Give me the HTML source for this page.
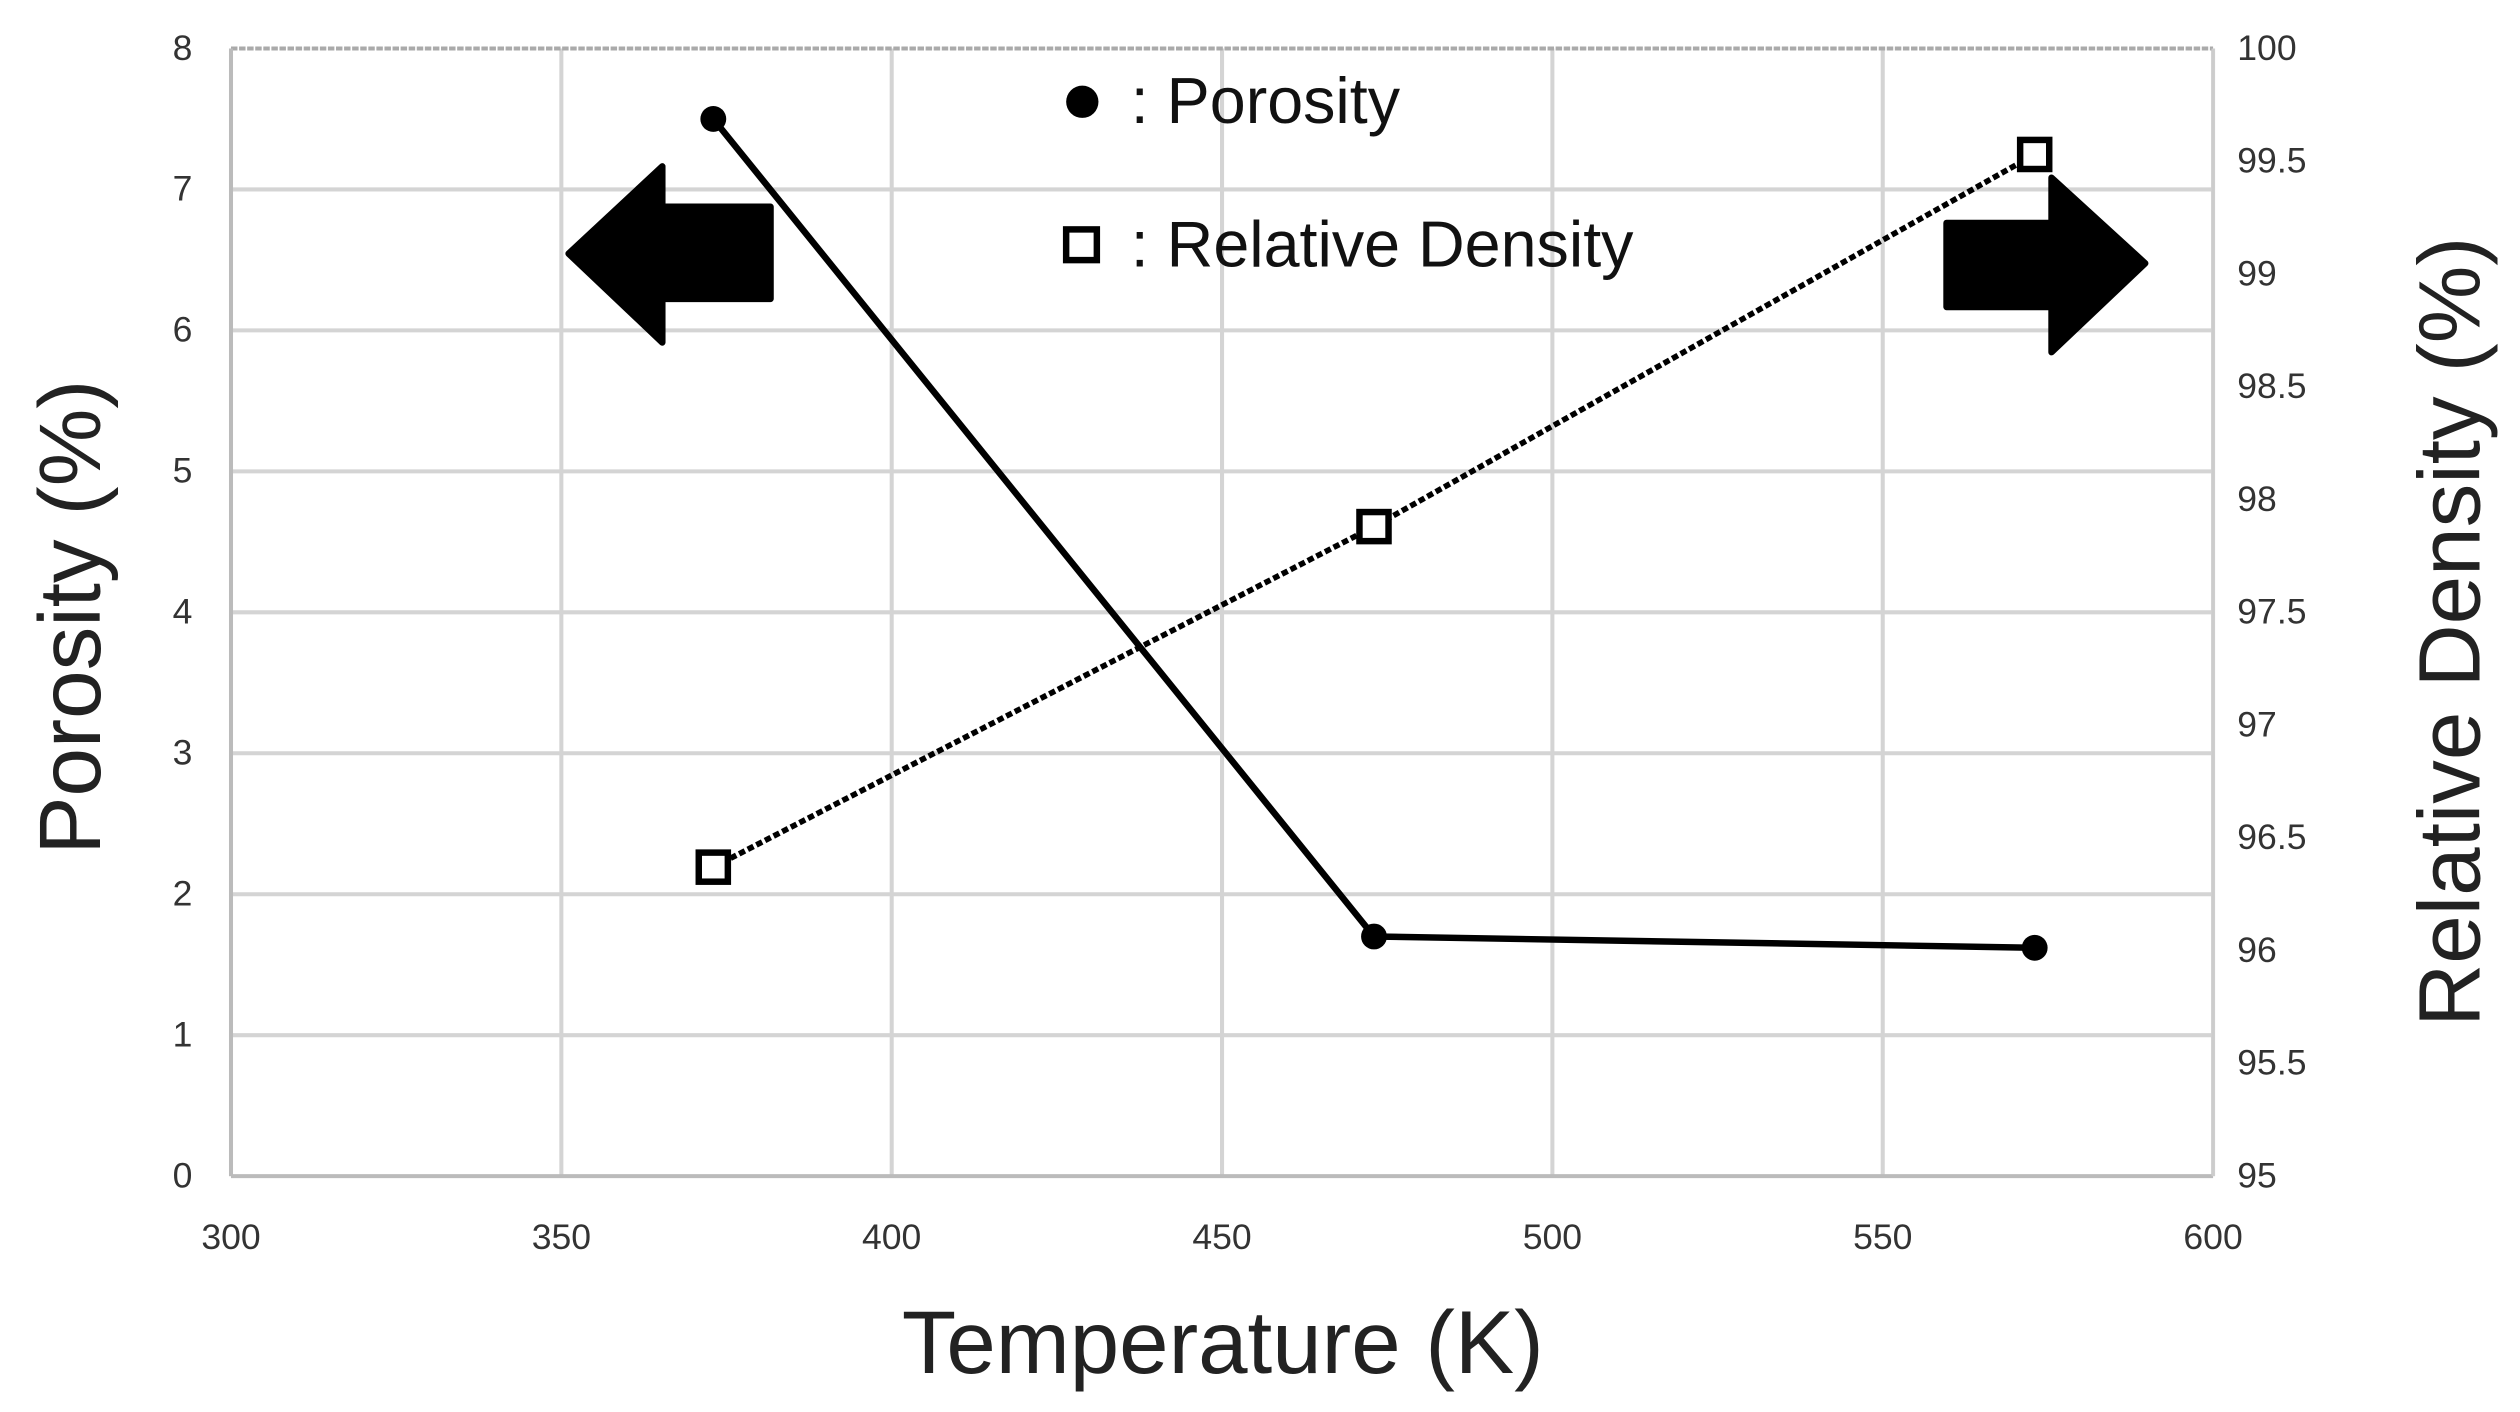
<!DOCTYPE html>
<html><head><meta charset="utf-8"><style>
html,body{margin:0;padding:0;background:#fff;}
svg{display:block;}
text{font-family:"Liberation Sans",sans-serif;}
</style></head><body>
<svg id="chart" width="2520" height="1412" viewBox="0 0 1560 874" preserveAspectRatio="none" xmlns="http://www.w3.org/2000/svg">
<rect width="1560" height="874" fill="#fff"/>
<g id="grid"></g>
<g id="axes"></g>
<g id="series"></g>
<path d="M352,157 L410,103 L410,128 L477,128 L477,185 L410,185 L410,212 Z" fill="#000" stroke="#000" stroke-width="4" stroke-linejoin="round"/>
<path d="M1328,163 L1270,110 L1270,138 L1205,138 L1205,190 L1270,190 L1270,218 Z" fill="#000" stroke="#000" stroke-width="4" stroke-linejoin="round"/>
<g>
<circle cx="670" cy="63" r="10" fill="#000"/>
<text x="700" y="76" font-size="40" fill="#111">: Porosity</text>
<rect x="660" y="142" width="19" height="19" fill="#fff" stroke="#000" stroke-width="4"/>
<text x="700" y="165" font-size="40" fill="#111">: Relative Density</text>
</g>
<text x="757" y="850" font-size="55" text-anchor="middle" fill="#222">Temperature (K)</text>
<text transform="translate(62,382) rotate(-90)" font-size="54" text-anchor="middle" fill="#222">Porosity (%)</text>
<text transform="translate(1535,391) rotate(-90)" font-size="54" text-anchor="middle" fill="#222">Relative Density (%)</text>
</svg>
<script>
const temps = [373, 473, 573];
const porosity = [7.5, 1.7, 1.62];
const density = [96.37, 97.88, 99.53];
const xTicks = [300, 350, 400, 450, 500, 550, 600];
const yLeftTicks = [0, 1, 2, 3, 4, 5, 6, 7, 8];
const yRightTicks = [95, 95.5, 96, 96.5, 97, 97.5, 98, 98.5, 99, 99.5, 100];

const NS = "http://www.w3.org/2000/svg";
const X0 = 143, X1 = 1370, Y0 = 728, Y1 = 30;
const xs = v => X0 + (v - 300) / 300 * (X1 - X0);
const yl = v => Y0 - v / 8 * (Y0 - Y1);
const yr = v => Y0 - (v - 95) / 5 * (Y0 - Y1);
function mk(tag, attrs, parent) {
  const e = document.createElementNS(NS, tag);
  for (const k in attrs) e.setAttribute(k, attrs[k]);
  parent.appendChild(e);
  return e;
}
const grid = document.getElementById('grid');
const axes = document.getElementById('axes');
const series = document.getElementById('series');

xTicks.forEach(t => {
  const l = mk('line', {x1: xs(t), x2: xs(t), y1: Y1, y2: Y0, stroke: '#d4d4d4', 'stroke-width': 2.5}, grid);
  
  
  const tx = mk('text', {x: xs(t), y: 773, 'font-size': 22, 'text-anchor': 'middle', fill: '#333'}, axes);
  tx.textContent = t;
  
  
});
yLeftTicks.forEach(t => {
  const l = mk('line', {x1: X0, x2: X1, y1: yl(t), y2: yl(t), stroke: t === 0 ? '#bbb' : (t === 8 ? '#aaa' : '#d4d4d4'), 'stroke-width': 2.5, 'stroke-dasharray': t === 8 ? '4 1' : 'none'}, grid);
  
  
  const tx = mk('text', {x: 113, y: yl(t) + 7, 'font-size': 22, 'text-anchor': 'middle', fill: '#333'}, axes);
  tx.textContent = t;
  
  
});
yRightTicks.forEach(t => {
  const tx = mk('text', {x: 1385, y: yr(t) + 7, 'font-size': 22, fill: '#333'}, axes);
  tx.textContent = t;
  
  
});
const la = mk('line', {x1: X0, x2: X0, y1: Y1, y2: Y0, stroke: '#bbb', 'stroke-width': 2.5}, axes);


const ra = mk('line', {x1: X1, x2: X1, y1: Y1, y2: Y0, stroke: '#ccc', 'stroke-width': 2}, axes);



const pl = mk('polyline', {points: temps.map((t, i) => xs(t) + ',' + yl(porosity[i])).join(' '), fill: 'none', stroke: '#000', 'stroke-width': 4}, series);


const dl = mk('polyline', {points: temps.map((t, i) => xs(t) + ',' + yr(density[i])).join(' '), fill: 'none', stroke: '#000', 'stroke-width': 3.5, 'stroke-dasharray': '4 2'}, series);


temps.forEach((t, i) => {
  const c = mk('circle', {cx: xs(t), cy: yl(porosity[i]), r: 8, fill: '#000'}, series);
  
  
  const r = mk('rect', {x: xs(t) - 9, y: yr(density[i]) - 9, width: 18, height: 18, fill: '#fff', stroke: '#000', 'stroke-width': 4}, series);
  
  
});
</script>
</body></html>
